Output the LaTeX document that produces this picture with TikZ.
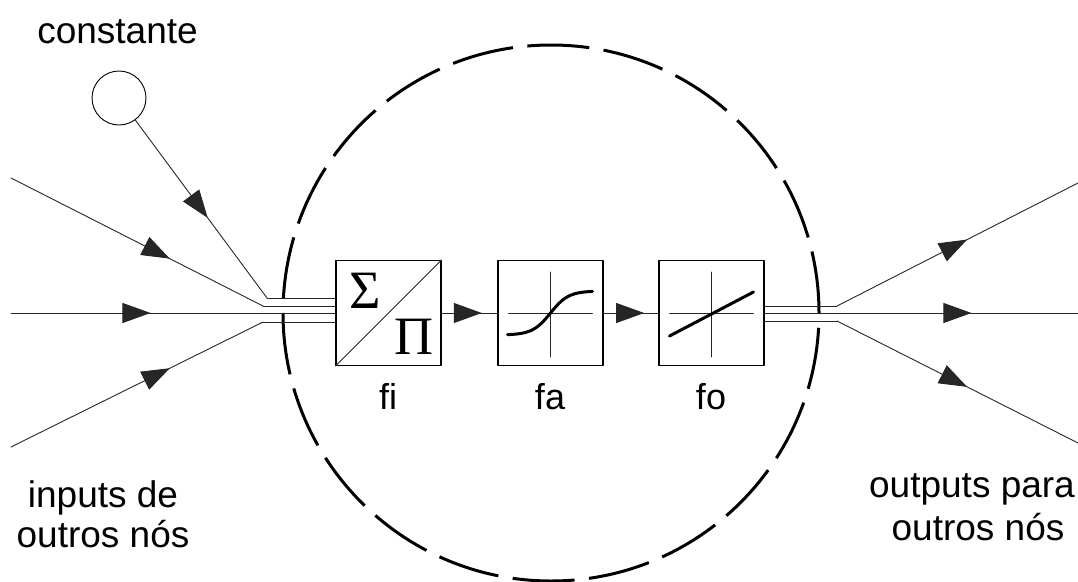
\documentclass[tikz,border=0pt]{standalone}
\usepackage{fontspec}
\setmainfont{Liberation Sans}
\newfontfamily\grkfont{Liberation Serif}
\usetikzlibrary{arrows.meta,decorations.markings,calc}

\begin{document}
\begin{tikzpicture}[x=1pt, y=-1pt, line join=round, line cap=round,
  font=\fontsize{37}{41}\selectfont,
  wire/.style={line width=.9pt, draw=black!85},
  blk/.style={draw, line width=1.2pt, minimum size=105pt, inner sep=0pt},
  curve/.style={line width=3pt},
  txt/.style={anchor=base, inner sep=0pt},
  mid arrow/.style={postaction={decorate}, decoration={markings,
    mark=at position #1 with {\arrow{Triangle[length=28pt,width=20pt]}}}}]
\useasboundingbox (0,0) rectangle (1078,581);
\tikzset{declare function={sg(\x)=22*tanh(\x/18);}}
% neuron boundary
\draw [line width=3pt, line cap=butt, dash pattern=on 62pt off 14.54pt] (551,313) circle [radius=268pt];
% blocks
\node [blk] (fi) at (388.5,313) {};
\node [blk] (fa) at (550.5,313) {};
\node [blk] (fo) at (711.5,313) {};
\draw [wire] (fi.south west)--(fi.north east);
\node (sig) at (365,291) {\grkfont\fontsize{54}{54}\selectfont Σ};
\node (pi) at (414,337) {\grkfont\fontsize{54}{54}\selectfont Π};
\draw [wire] ($(fa)+(-42,0)$)--($(fa)+(42,0)$) ($(fa)+(0,-41)$)--($(fa)+(0,44)$);
\draw [curve, smooth, samples=60] plot [domain=-43:42] ({550.5+\x},{313-sg(\x)});
\draw [wire] ($(fo)+(-42,0)$)--($(fo)+(42,0)$) ($(fo)+(0,-41)$)--($(fo)+(0,44)$);
\draw [curve] ($(fo)+(-42,23)$)--($(fo)+(42,-21)$);
\node [txt, font=\fontsize{36}{40}\selectfont] (lfi) at (388,409) {fi};
\node [txt, font=\fontsize{36}{40}\selectfont] (lfa) at (550,409) {fa};
\node [txt, font=\fontsize{36}{40}\selectfont] (lfo) at (711,409) {fo};
\draw [wire, mid arrow=.72] (fi)--(fa);
\draw [wire, mid arrow=.74] (fa)--(fo);
% constant and inputs
\node [draw, circle, line width=.9pt, minimum size=54pt, inner sep=0pt] (c) at (119,98) {};
\node [txt] (lc) at (117.5,43) {constante};
\coordinate (s1) at (11,178); \coordinate (s2) at (11,313); \coordinate (s3) at (11,447);
\coordinate (k0) at (267,298); \coordinate (k1) at (263,306); \coordinate (k3) at (263,322);
\draw [wire, mid arrow=.55] (c)--(k0);
\draw [wire, mid arrow=.63] (s1)--(k1);
\draw [wire, mid arrow=.43] (s2)--(s2 -| fi.west);
\draw [wire, mid arrow=.63] (s3)--(k3);
\draw [wire] (k0)--(k0 -| fi.west) (k1)--(k1 -| fi.west) (k3)--(k3 -| fi.west);
\node [txt] (li1) at (103,507) {inputs de};
\node [txt] (li2) at (103,547) {outros nós};
% outputs
\coordinate (o1) at (837,306); \coordinate (o3) at (837,321);
\coordinate (e1) at (1078,183); \coordinate (e2) at (1078,313); \coordinate (e3) at (1078,443);
\draw [wire] (o1 -| fo.east)--(o1) (o3 -| fo.east)--(o3);
\draw [wire, mid arrow=.54] (o1)--(e1);
\draw [wire, mid arrow=.66] (fo)--(e2);
\draw [wire, mid arrow=.54] (o3)--(e3);
\node [txt] (lo1) at (972,497) {outputs para};
\node [txt] (lo2) at (978,540) {outros nós};
\end{tikzpicture}
\end{document}
